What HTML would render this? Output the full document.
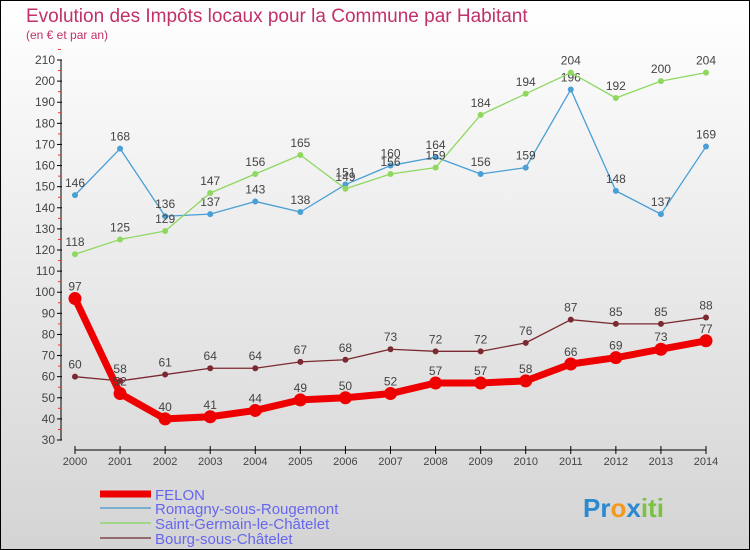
<!DOCTYPE html>
<html><head><meta charset="utf-8"><style>
body{margin:0;width:750px;height:550px;overflow:hidden;font-family:"Liberation Sans",sans-serif}
svg{display:block}
</style></head><body>
<svg id="chart" width="750" height="550" xmlns="http://www.w3.org/2000/svg">
<defs><linearGradient id="bg" x1="0" y1="0" x2="0" y2="1"><stop offset="0" stop-color="#ffffff"/><stop offset="1" stop-color="#d4d4d4"/></linearGradient></defs>
<rect x="0.5" y="0.5" width="749" height="549" fill="url(#bg)" stroke="#000"/>
<text x="26" y="22" font-size="19" fill="#c0306a">Evolution des Impôts locaux pour la Commune par Habitant</text>
<text x="26" y="39" font-size="12" fill="#c0306a">(en € et par an)</text>
<g id="axes"></g><g id="series"></g><g id="legend"></g>
<text x="583" y="517" font-size="26" font-weight="bold"><tspan fill="#2a8ad0">Pr</tspan><tspan fill="#f39a1e">o</tspan><tspan fill="#2a8ad0">x</tspan><tspan fill="#7cc242">iti</tspan></text>
</svg>
<script>
const years=[2000,2001,2002,2003,2004,2005,2006,2007,2008,2009,2010,2011,2012,2013,2014];
const felon=[97,52,40,41,44,49,50,52,57,57,58,66,69,73,77];
const romagny=[146,168,136,137,143,138,151,160,164,156,159,196,148,137,169];
const saintGermain=[118,125,129,147,156,165,149,156,159,184,194,204,192,200,204];
const bourg=[60,58,61,64,64,67,68,73,72,72,76,87,85,85,88];
const yTicks=[30,40,50,60,70,80,90,100,110,120,130,140,150,160,170,180,190,200,210];
const NS="http://www.w3.org/2000/svg";
const x=i=>75+i*(706-75)/(years.length-1);
const y=v=>440-(v-30)*380/180;
function mk(tag,attrs,parent,text){const e=document.createElementNS(NS,tag);for(const k in attrs)e.setAttribute(k,attrs[k]);if(text!==undefined)e.textContent=text;parent.appendChild(e);return e;}
const axes=document.getElementById('axes');
let e=mk('line',{x1:61,y1:y(210),x2:61,y2:y(30),stroke:'#000'},axes);


yTicks.forEach(v=>{
 mk('line',{x1:57,y1:y(v),x2:62,y2:y(v),stroke:'#000'},axes);
 mk('line',{x1:58,y1:y(v+5),x2:61,y2:y(v+5),stroke:'#e33'},axes);
 const t=mk('text',{x:55,y:y(v)+4,'font-size':12,'text-anchor':'end',fill:'#444'},axes,v);
 
 
});
e=mk('line',{x1:x(0),y1:450,x2:x(14),y2:450,stroke:'#000'},axes);


years.forEach((yr,i)=>{
 mk('line',{x1:x(i),y1:446,x2:x(i),y2:454,stroke:'#000'},axes);
 const t=mk('text',{x:x(i),y:465,'font-size':11,'text-anchor':'middle',fill:'#444'},axes,yr);
 
 
});
const sg=document.getElementById('series');
const defs=[
 {d:romagny,c:'#4a9fd4',w:1.3,r:3,name:'romagny'},
 {d:saintGermain,c:'#8ed860',w:1.3,r:3,name:'saint-germain'},
 {d:bourg,c:'#7a2a30',w:1.3,r:3,name:'bourg'},
 {d:felon,c:'#ee0000',w:7,r:6.5,name:'felon'}];
defs.forEach(s=>{
 const g=mk('g',{},sg);
 
 
 const p=mk('polyline',{points:s.d.map((v,i)=>x(i)+','+y(v)).join(' '),fill:'none',stroke:s.c,'stroke-width':s.w,'stroke-linejoin':'round'},g);
 
 
 s.d.forEach((v,i)=>{
  const c=mk('circle',{cx:x(i),cy:y(v),r:s.r,fill:s.c},g);
  
  
  const t=mk('text',{x:x(i),y:y(v)-8,'font-size':12,'text-anchor':'middle',fill:'#444'},g,v);
  
  
 });
});
const lg=document.getElementById('legend');
[['FELON','#ee0000',7,494],['Romagny-sous-Rougemont','#7aaed0',2,508],['Saint-Germain-le-Châtelet','#9ed888',2,523],['Bourg-sous-Châtelet','#946a6a',2,538]].forEach(([n,c,w,yy])=>{
 const g=mk('g',{},lg);
 
 
 mk('line',{x1:100,y1:yy,x2:151,y2:yy,stroke:c,'stroke-width':w},g);
 mk('text',{x:155,y:yy+6,'font-size':15,fill:'#6666ee'},g,n);
});
</script>
</body></html>
